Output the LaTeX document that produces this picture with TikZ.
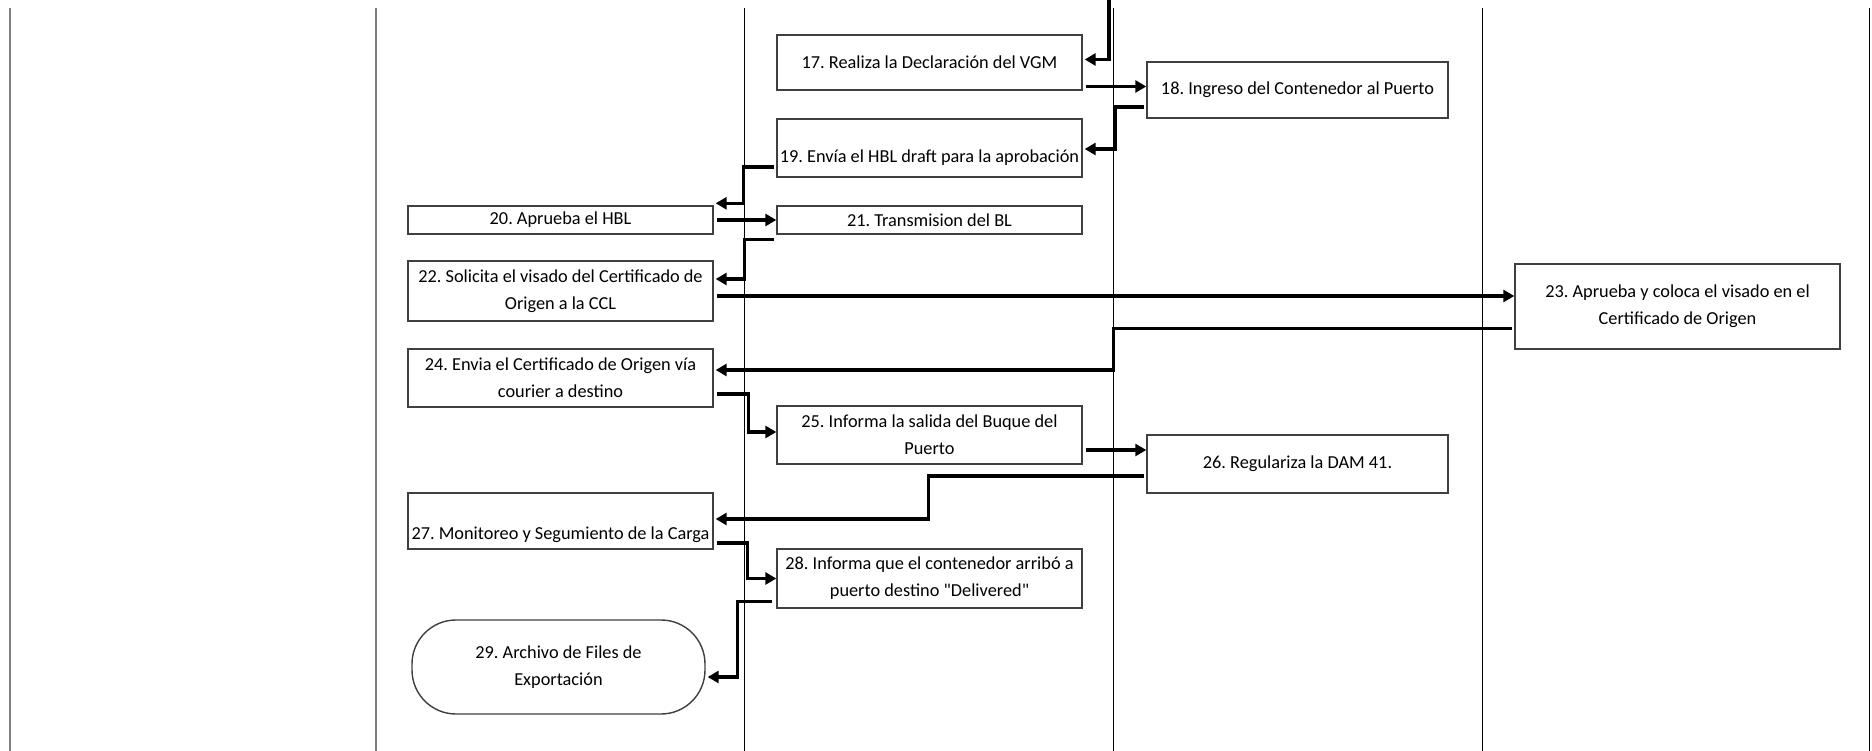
\documentclass[tikz,border=0pt]{standalone}
\usepackage{fontspec}
\setmainfont{Carlito}[Ligatures=TeXOff]
\usetikzlibrary{arrows.meta,calc}
\definecolor{boxline}{HTML}{404040}
\definecolor{laneside}{HTML}{7F7F7F}
\frenchspacing
\begin{document}
\begin{tikzpicture}[x=1pt,y=-1pt,
  every node/.style={font=\fontsize{18.3}{27}\selectfont, text=black, align=center},
  stepbox/.style={draw=boxline, line width=1.4pt, fill=white, inner sep=0pt},
  termbox/.style={draw=boxline, line width=1.4pt, fill=white, inner sep=0pt, rounded corners=44pt},
  lane/.style={line width=1pt, draw=black},
  sidelane/.style={line width=2.2pt, draw=laneside},
  conn/.style={line width=3.2pt, draw=black, -{Triangle[length=11pt,width=12pt]}},
  low/.style={anchor=center}
]
\useasboundingbox (0,0) rectangle (1872,751);

% swimlane separators
\coordinate (L0t) at (10,8);    \coordinate (L0b) at (10,751);
\coordinate (L1t) at (376,8);   \coordinate (L1b) at (376,751);
\coordinate (L2t) at (744,8);   \coordinate (L2b) at (744,751);
\coordinate (L3t) at (1113,8);  \coordinate (L3b) at (1113,751);
\coordinate (L4t) at (1482,8);  \coordinate (L4b) at (1482,751);
\coordinate (L5t) at (1869,8);  \coordinate (L5b) at (1869,751);
\draw[sidelane] (L0t) -- (L0b);
\draw[sidelane] (L1t) -- (L1b);
\draw[lane] (L2t) -- (L2b);
\draw[lane] (L3t) -- (L3b);
\draw[lane] (L4t) -- (L4b);
\draw[lane] (L5t) -- (L5b);

% process steps
\node[stepbox, minimum width=305pt, minimum height=55pt] (B17) at (929.5,62.5) {17. Realiza la Declaración del VGM};
\node[stepbox, minimum width=301pt, minimum height=56pt] (B18) at (1297.5,90) {18. Ingreso del Contenedor al Puerto};
\node[stepbox, minimum width=305pt, minimum height=58pt,
      label={[low, yshift=-10pt]center:19. Envía el HBL draft para la aprobación}] (B19) at (929.5,148) {};
\node[stepbox, minimum width=305pt, minimum height=28pt] (B20) at (560.5,220) {20. Aprueba el HBL};
\node[stepbox, minimum width=305pt, minimum height=28pt] (B21) at (929.5,220) {21. Transmision del BL};
\node[stepbox, minimum width=305pt, minimum height=60pt] (B22) at (560.5,291) {22. Solicita el visado del Certificado de\\Origen a la CCL};
\node[stepbox, minimum width=325pt, minimum height=85pt] (B23) at (1677.5,306.5) {23. Aprueba y coloca el visado en el\\Certificado de Origen};
\node[stepbox, minimum width=305pt, minimum height=58pt] (B24) at (560.5,378) {24. Envia el Certificado de Origen vía\\courier a destino};
\node[stepbox, minimum width=305pt, minimum height=58pt] (B25) at (929.5,435) {25. Informa la salida del Buque del\\Puerto};
\node[stepbox, minimum width=301pt, minimum height=58pt] (B26) at (1297.5,464) {26. Regulariza la DAM 41.};
\node[stepbox, minimum width=305pt, minimum height=56pt,
      label={[low, yshift=-14pt]center:27. Monitoreo y Segumiento de la Carga}] (B27) at (560.5,521) {};
\node[stepbox, minimum width=305pt, minimum height=59pt] (B28) at (929.5,578.5) {28. Informa que el contenedor arribó a\\puerto destino "Delivered"};
\node[termbox, minimum width=293pt, minimum height=94pt] (B29) at (558.5,667) {29. Archivo de Files de\\Exportación};

% incoming flow from the previous page
\coordinate (inflow) at (1109,0);

% connectors
\draw[conn] (inflow) |- ($(B17.east)+(2,-3)$);
\draw[conn] ($(B17.east)+(3,24)$) -- ($(B18.west|-B17.east)+(0,24)$);
\draw[conn] ($(B18.west)+(-2,17)$) -- ++(-29,0) |- ($(B19.east)+(2,1)$);
\draw[conn] ($(B19.west)+(-2,19)$) -- ++(-31,0) |- ($(B20.north east)+(2,-2)$);
\draw[conn] ($(B20.east)+(3,0)$) -- (B21.west);
\draw[conn] ($(B21.south west)+(-2,5)$) -- ++(-30,0) |- ($(B22.east)+(2,-12)$);
\draw[conn] ($(B22.east)+(3,5)$) -- ($(B23.west|-B22.east)+(0,5)$);
\draw[conn] ($(B23.west)+(-2,22)$) -- ++(-399,0) |- ($(B24.east)+(2,-8)$);
\draw[conn] ($(B24.east)+(3,16)$) -- ++(32,0) |- ($(B25.west)+(0,-3)$);
\draw[conn] ($(B25.east)+(3,15)$) -- ($(B26.west|-B25.east)+(0,15)$);
\draw[conn] ($(B26.west)+(-2,12)$) -- ++(-216,0) |- ($(B27.east)+(2,-2)$);
\draw[conn] ($(B27.east)+(3,22)$) -- ++(31,0) |- (B28.west);
\draw[conn] ($(B28.west)+(-4,23)$) -- ++(-35,0) |- ($(B29.east)+(2,10)$);
\end{tikzpicture}
\end{document}
